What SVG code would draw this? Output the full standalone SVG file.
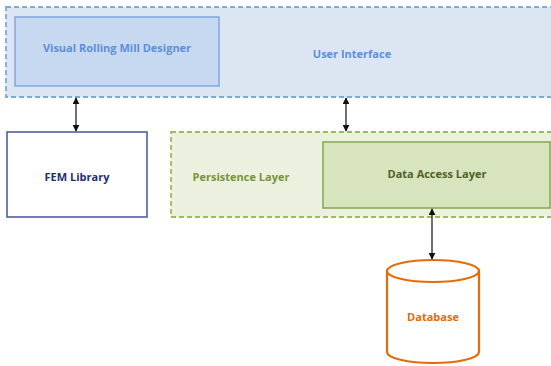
<svg xmlns="http://www.w3.org/2000/svg" width="551" height="366" viewBox="0 0 551 366">
<defs>
<style>
text{font-family:"Open Sans","Liberation Sans",Arial,sans-serif;font-weight:bold;font-size:11px;text-anchor:middle;dominant-baseline:central}
.conn{stroke:#222;stroke-width:1.3;fill:none;marker-start:url(#ah);marker-end:url(#ah)}
.dash{stroke-width:1.8;stroke-dasharray:5 3}
</style>
<marker id="ah" viewBox="0 0 10 10" refX="9" refY="5" markerWidth="7" markerHeight="7" orient="auto-start-reverse" markerUnits="userSpaceOnUse">
<path d="M0,0 L10,5 L0,10 z" fill="#111"/>
</marker>
</defs>
<rect width="551" height="366" fill="#fff"/>
<g id="user-interface">
<rect class="dash" x="6" y="7" width="560" height="90" fill="#dce6f2" stroke="#7fa8dc"/>
<text x="352" y="53" fill="#5b8fd8">User Interface</text>
</g>
<g id="visual-rolling-mill-designer">
<rect x="15" y="17" width="204" height="69" fill="#c6d9f1" stroke="#7fa8dc" stroke-width="1.5"/>
<text x="117" y="47" fill="#5b8fd8">Visual Rolling Mill Designer</text>
</g>
<g id="fem-library">
<rect x="7" y="132" width="140" height="85" fill="#fff" stroke="#4f5f9f" stroke-width="1.6"/>
<text x="77" y="176" fill="#1f2f6f">FEM Library</text>
</g>
<g id="persistence-layer">
<rect class="dash" x="171" y="132" width="400" height="85" fill="#ebf1de" stroke="#9bbb59"/>
<text x="241" y="176" fill="#77933c">Persistence Layer</text>
</g>
<g id="data-access-layer">
<rect x="323" y="142" width="227" height="66" fill="#d7e4bd" stroke="#8aab54" stroke-width="1.6"/>
<text x="437" y="173" fill="#4f6228">Data Access Layer</text>
</g>
<g id="database">
<path d="M387,271 L387,352 A46,11 0 0 0 479,352 L479,271" fill="#fff" stroke="#e36c09" stroke-width="2.2"/>
<ellipse cx="433" cy="271" rx="46" ry="11" fill="#fff" stroke="#e36c09" stroke-width="2.2"/>
<text x="433" y="316" fill="#e36c09">Database</text>
</g>
<g id="connectors">
<line class="conn" x1="76" y1="98" x2="76" y2="131"/>
<line class="conn" x1="346" y1="98" x2="346" y2="131"/>
<line class="conn" x1="432" y1="209" x2="432" y2="259"/>
</g>
</svg>
